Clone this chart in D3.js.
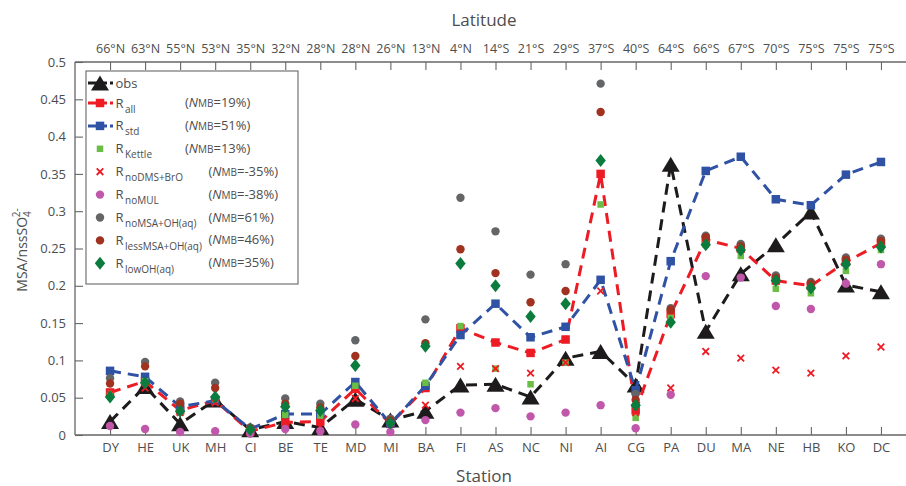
<!DOCTYPE html>
<html><head><meta charset="utf-8">
<script src="https://cdn.jsdelivr.net/npm/d3@7"></script>
<style>
body{margin:0;background:#fff;}
svg text{font-family:"Open Sans",sans-serif;fill:#4d4d4d;}
</style></head>
<body><svg id="c" width="906" height="486"></svg>
<script>
const stations=["DY","HE","UK","MH","CI","BE","TE","MD","MI","BA","FI","AS","NC","NI","AI","CG","PA","DU","MA","NE","HB","KO","DC"];
const latitudes=["66°N","63°N","55°N","53°N","35°N","32°N","28°N","28°N","26°N","13°N","4°N","14°S","21°S","29°S","37°S","40°S","64°S","66°S","67°S","70°S","75°S","75°S","75°S"];
const yTicks=[0,0.05,0.1,0.15,0.2,0.25,0.3,0.35,0.4,0.45,0.5];
const yTickLabels=["0","0.05","0.1","0.15","0.2","0.25","0.3","0.35","0.4","0.45","0.5"];

const obs     =[0.018,0.065,0.015,0.047,0.007,0.018,0.010,0.048,0.020,0.032,0.067,0.068,0.051,0.103,0.112,0.067,0.363,0.139,0.216,0.255,0.299,0.201,0.192];
const rAll    =[0.057,0.072,0.033,0.046,0.005,0.017,0.018,0.062,0.015,0.063,0.143,0.124,0.110,0.128,0.350,0.033,0.162,0.262,0.250,0.207,0.200,0.232,0.257];
const rStd    =[0.086,0.078,0.038,0.046,0.008,0.028,0.028,0.071,0.015,0.066,0.134,0.176,0.131,0.145,0.208,0.060,0.233,0.354,0.373,0.316,0.308,0.349,0.366];
const rKettle =[0.055,0.072,0.032,0.048,0.006,0.027,0.026,0.066,0.017,0.070,0.146,0.089,0.068,0.097,0.309,0.023,0.157,0.255,0.240,0.196,0.190,0.220,0.248];
const rNoDMS  =[0.055,0.063,0.030,0.043,0.004,0.018,0.012,0.049,0.015,0.040,0.092,0.089,0.083,0.097,0.193,0.030,0.063,0.112,0.103,0.087,0.083,0.106,0.118];
const rNoMUL  =[0.012,0.008,0.004,0.005,0.002,0.008,0.005,0.014,0.004,0.020,0.030,0.036,0.025,0.030,0.040,0.009,0.054,0.213,0.211,0.173,0.169,0.203,0.229];
const rNoMSA  =[0.076,0.098,0.045,0.070,0.010,0.049,0.042,0.127,0.022,0.155,0.318,0.273,0.215,0.229,0.471,0.055,0.170,0.267,0.256,0.214,0.205,0.238,0.263];
const rLessMSA=[0.069,0.092,0.042,0.063,0.009,0.042,0.037,0.106,0.020,0.123,0.249,0.217,0.178,0.193,0.433,0.047,0.168,0.265,0.253,0.211,0.203,0.235,0.260];
const rLowOH  =[0.051,0.070,0.032,0.051,0.007,0.038,0.033,0.093,0.016,0.119,0.230,0.200,0.159,0.176,0.368,0.040,0.151,0.255,0.248,0.207,0.197,0.229,0.252];

const seriesNames=["obs","all","std","Kettle","noDMS+BrO","noMUL","noMSA+OH(aq)","lessMSA+OH(aq)","lowOH(aq)"];
const nmbLabels=[null,"=19%)","=51%)","=13%)","=-35%)","=-38%)","=61%)","=46%)","=35%)"];

const series=[
 {name:seriesNames[0],v:obs,color:"#1e1b1c",line:true,shape:"tri"},
 {name:seriesNames[1],v:rAll,color:"#ed1c24",line:true,shape:"sq",sz:8.5},
 {name:seriesNames[2],v:rStd,color:"#2f52a4",line:true,shape:"sq",sz:8.5},
 {name:seriesNames[3],v:rKettle,color:"#6abd45",shape:"sq",sz:6.5},
 {name:seriesNames[4],v:rNoDMS,color:"#ed1c24",shape:"x"},
 {name:seriesNames[5],v:rNoMUL,color:"#c057aa",shape:"circ"},
 {name:seriesNames[6],v:rNoMSA,color:"#646567",shape:"circ"},
 {name:seriesNames[7],v:rLessMSA,color:"#a0321f",shape:"circ"},
 {name:seriesNames[8],v:rLowOH,color:"#0b7c3d",shape:"dia"}
];

const svg=d3.select("#c");
const L=75,R=916,T=62,B=435;
const x=d3.scaleLinear().domain([0,24]).range([L,R]);
const y=d3.scaleLinear().domain([0,0.5]).range([B,T]);
const axisCol="#666";

function drawMarker(g,shape,cx,cy,color,sz){
  if(shape==="tri"){
    const w=18,h=15;
    g.append("path").attr("d",`M${cx},${cy-h/2}L${cx+w/2},${cy+h/2}L${cx-w/2},${cy+h/2}Z`).attr("fill",color);
  }else if(shape==="sq"){
    g.append("rect").attr("x",cx-sz/2).attr("y",cy-sz/2).attr("width",sz).attr("height",sz).attr("fill",color);
  }else if(shape==="circ"){
    g.append("circle").attr("cx",cx).attr("cy",cy).attr("r",4.2).attr("fill",color);
  }else if(shape==="dia"){
    g.append("path").attr("d",`M${cx},${cy-6.5}L${cx+5.2},${cy}L${cx},${cy+6.5}L${cx-5.2},${cy}Z`).attr("fill",color);
  }else if(shape==="x"){
    const s=3.3;
    g.append("path").attr("d",`M${cx-s},${cy-s}L${cx+s},${cy+s}M${cx-s},${cy+s}L${cx+s},${cy-s}`).attr("stroke",color).attr("stroke-width",1.8).attr("fill","none");
  }
}

// axes
const gx=svg.append("g").attr("transform",`translate(0,${B})`)
 .call(d3.axisBottom(x).tickValues(d3.range(1,24)).tickFormat(d=>stations[d-1]).tickSize(-8).tickPadding(8));
const gt=svg.append("g").attr("transform",`translate(0,${T})`)
 .call(d3.axisTop(x).tickValues(d3.range(1,24)).tickFormat(d=>latitudes[d-1]).tickSize(-8).tickPadding(9));
const gy=svg.append("g").attr("transform",`translate(${L},0)`)
 .call(d3.axisLeft(y).tickValues(yTicks).tickFormat((d,i)=>yTickLabels[i]).tickSize(-8).tickPadding(9));
[gx,gt,gy].forEach(g=>{
  g.selectAll("path.domain").attr("stroke",axisCol).attr("stroke-width",1.3);
  g.selectAll(".tick line").attr("stroke",axisCol).attr("stroke-width",1.1);
  g.selectAll(".tick text").attr("font-size",13).attr("fill","#4d4d4d").style("font-family","'Open Sans',sans-serif");
});
gt.selectAll(".tick text").attr("font-size",12.5);
gy.selectAll("path.domain").attr("d",`M0,${B}V${T}`);
gx.selectAll("path.domain").attr("d",`M${L},0H${R}`);
gt.selectAll("path.domain").attr("d",`M${L},0H${R}`);

// titles
svg.append("text").attr("x",484).attr("y",26).attr("text-anchor","middle").attr("font-size",17).text("Latitude");
svg.append("text").attr("x",484).attr("y",482).attr("text-anchor","middle").attr("font-size",17).text("Station");
const yl=svg.append("text").attr("transform","translate(27,250) rotate(-90)").attr("text-anchor","middle").attr("font-size",14);
yl.append("tspan").text("MSA/nssSO");
yl.append("tspan").attr("font-size",10).attr("dy",4).text("4");
yl.append("tspan").attr("font-size",10).attr("dx",-6).attr("dy",-11).text("2-");

// data
const plot=svg.append("g");
const dash="11,7";
series.forEach(s=>{
  const g=plot.append("g");
  if(s.line){
    g.append("path").datum(s.v)
     .attr("d",d3.line().x((d,i)=>x(i+1)).y(d=>y(d)))
     .attr("fill","none").attr("stroke",s.color).attr("stroke-width",3).attr("stroke-dasharray",dash);
  }
  s.v.forEach((d,i)=>drawMarker(g,s.shape,x(i+1),y(d),s.color,s.sz));
});

// legend
const lg=svg.append("g");
lg.append("rect").attr("x",86).attr("y",71).attr("width",212).attr("height",213).attr("fill","#fff").attr("stroke",axisCol).attr("stroke-width",1.1);
series.forEach((s,k)=>{
  const cy= k===0 ? 83 : 103+22.9*(k-1);
  const g=lg.append("g");
  if(s.line){
    g.append("line").attr("x1",88).attr("x2",113).attr("y1",cy).attr("y2",cy)
     .attr("stroke",s.color).attr("stroke-width",3).attr("stroke-dasharray","19,3");
  }
  drawMarker(g,s.shape,100,cy,s.color,s.sz);
  if(k===0){
    g.append("text").attr("x",115.5).attr("y",cy+4.5).attr("font-size",13).text("obs");
  }else{
    const t=g.append("text").attr("x",115.5).attr("y",cy+4.5).attr("font-size",13);
    t.append("tspan").text("R");
    t.append("tspan").attr("x",125).attr("dy",5).attr("font-size",10).text(s.name);
    const nx= k<=3 ? 185 : 208.5;
    const n=g.append("text").attr("x",nx).attr("y",cy+4).attr("font-size",13);
    n.append("tspan").text("(");
    n.append("tspan").attr("font-style","italic").text("N");
    n.append("tspan").attr("font-size",10).text("MB");
    n.append("tspan").text(nmbLabels[k]);
  }
});
</script></body></html>
